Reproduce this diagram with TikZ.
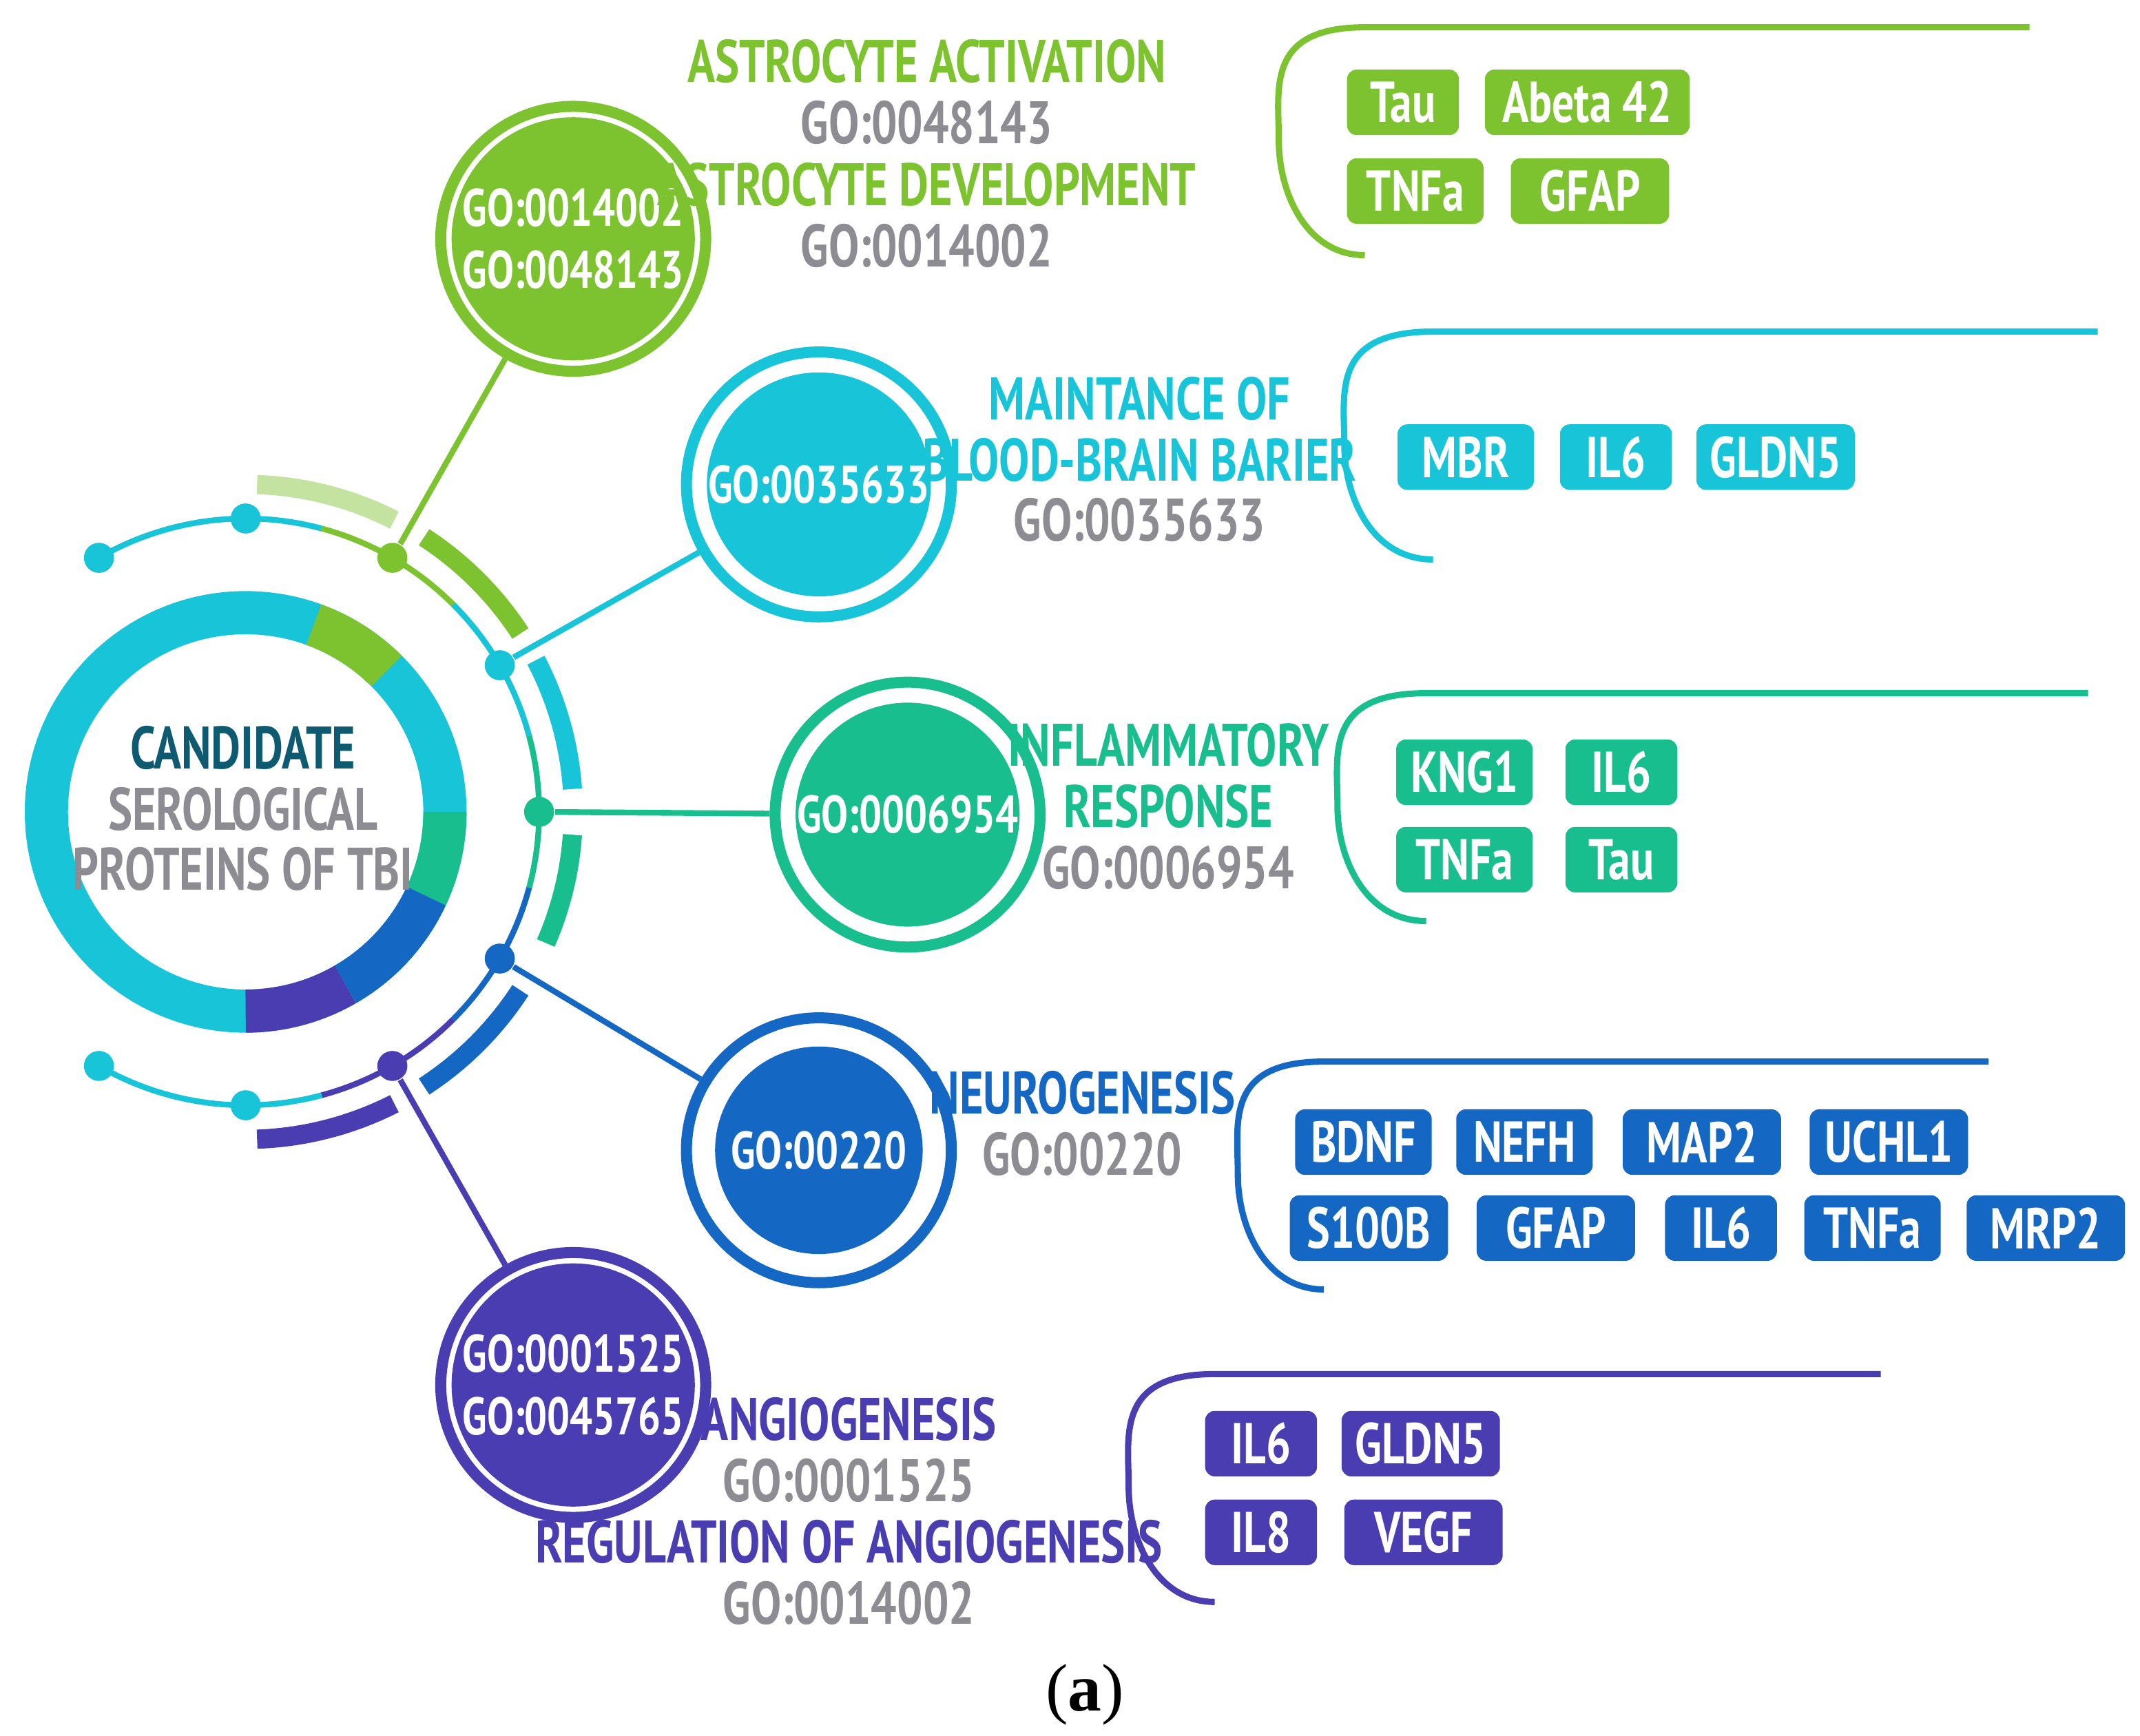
\documentclass[tikz,border=0pt]{standalone}
\usetikzlibrary{calc}
\usepackage{fontspec}
\setmainfont{PT Sans}
\newfontfamily\serif{Liberation Serif}
\newcommand\nt[1]{\scalebox{0.76}[1]{#1}}
\definecolor{cg}{HTML}{7DC22F}
\definecolor{cc}{HTML}{18C4D8}
\definecolor{ct}{HTML}{19BE8E}
\definecolor{cb}{HTML}{1468C4}
\definecolor{cp}{HTML}{4A3DB2}
\definecolor{cgr}{HTML}{8C8C92}
\definecolor{cd}{HTML}{0E5A70}
\begin{document}
\begin{tikzpicture}[x=0.01cm,y=-0.01cm,
  lab/.style={font=\bfseries\fontsize{12.5}{14}\selectfont,inner sep=0},
  tag/.style={fill=#1,text=white,rounded corners=2pt,minimum height=0.48cm,inner sep=0,font=\bfseries\fontsize{12}{14}\selectfont},
  go/.style={circle,draw=#1,line width=2.3pt,minimum size=1.94cm,inner sep=0},
  gofill/.style={circle,fill=#1,minimum size=1.52cm,inner sep=0,text=white,font=\bfseries\fontsize{11}{13}\selectfont,align=center},
  dot/.style={circle,fill=#1,minimum size=0.22cm,inner sep=0},
  br/.style={draw=#1,line width=1.3pt}]
\useasboundingbox (0,0) rectangle (1568,1272);
\coordinate (C) at (180,595);
% central ring
\draw[cc,line width=9pt] (C) circle[radius=146];
\draw[cg,line width=9pt] (C) ++(-45:146) arc[start angle=-45,end angle=-70,radius=146];
\draw[ct,line width=9pt] (C) ++(0:146) arc[start angle=0,end angle=25,radius=146];
\draw[cb,line width=9pt] (C) ++(25:146) arc[start angle=25,end angle=60,radius=146];
\draw[cp,line width=9pt] (C) ++(60:146) arc[start angle=60,end angle=90,radius=146];
\node[lab,text=cd] at (178,548) {\nt{CANDIDATE}};
\node[lab,text=cgr] at (178,593) {\nt{SEROLOGICAL}};
\node[lab,text=cgr] at (178,637) {\nt{PROTEINS OF TBI}};
% thin arc r=215
\foreach \a/\b/\c in {-120/-75/cc,-75/-45/cg,-45/-15/cc,-15/15/ct,15/45/cb,45/75/cp,75/120/cc}
  \draw[\c,line width=1.2pt] (C) ++(\a:215) arc[start angle=\a,end angle=\b,radius=215];
% outer arcs
\foreach \a/\b/\c/\o in {-63/-88/cg/0.45,-33/-57/cg/1,-4/-27.6/cc/1,4/23.6/ct/1,33/57/cb/1,63/88/cp/1}
  \draw[\c,opacity=\o,line width=4pt] (C) ++(\a:240) arc[start angle=\a,end angle=\b,radius=240];
% dots
\node[dot=cc] (d0) at ($(C)+(-120:215)$) {};
\node[dot=cc] (d1) at ($(C)+(-90:215)$) {};
\node[dot=cg] (dg) at ($(C)+(-60:215)$) {};
\node[dot=cc] (dc) at ($(C)+(-30:215)$) {};
\node[dot=ct] (dt) at ($(C)+(0:215)$) {};
\node[dot=cb] (db) at ($(C)+(30:215)$) {};
\node[dot=cp] (dp) at ($(C)+(60:215)$) {};
\node[dot=cc] (d7) at ($(C)+(90:215)$) {};
\node[dot=cc] (d8) at ($(C)+(120:215)$) {};
% GO circles
\node[go=cg] (G) at (420,175) {}; \node[gofill=cg] at (G) {\nt{GO:0014002}\\\nt{GO:0048143}};
\node[go=cc] (Cy) at (600,355) {}; \node[gofill=cc] at (Cy) {\nt{GO:0035633}};
\node[go=ct] (T) at (665,597) {}; \node[gofill=ct] at (T) {\nt{GO:0006954}};
\node[go=cb] (B) at (600,843) {}; \node[gofill=cb] at (B) {\nt{GO:00220}};
\node[go=cp] (P) at (420,1015) {}; \node[gofill=cp] at (P) {\nt{GO:0001525}\\\nt{GO:0045765}};
\draw[cg,line width=1.2pt] (dg) -- (G);
\draw[cc,line width=1.2pt] (dc) -- (Cy);
\draw[ct,line width=1.2pt] (dt) -- (T);
\draw[cb,line width=1.2pt] (db) -- (B);
\draw[cp,line width=1.2pt] (dp) -- (P);
% labels
\node[lab,text=cg] at (679,45) {\nt{ASTROCYTE ACTIVATION}};
\node[lab,text=cgr] at (679,90) {\nt{GO:0048143}};
\node[lab,text=cg] at (679,135) {\nt{ASTROCYTE DEVELOPMENT}};
\node[lab,text=cgr] at (679,180) {\nt{GO:0014002}};
\node[lab,text=cc] at (835,292) {\nt{MAINTANCE OF}};
\node[lab,text=cc] at (835,337) {\nt{BLOOD-BRAIN BARIER}};
\node[lab,text=cgr] at (835,381) {\nt{GO:0035633}};
\node[lab,text=ct] at (856,546) {\nt{INFLAMMATORY}};
\node[lab,text=ct] at (856,591) {\nt{RESPONSE}};
\node[lab,text=cgr] at (856,636) {\nt{GO:0006954}};
\node[lab,text=cb] at (793,801) {\nt{NEUROGENESIS}};
\node[lab,text=cgr] at (793,846) {\nt{GO:00220}};
\node[lab,text=cp] at (622,1040) {\nt{ANGIOGENESIS}};
\node[lab,text=cgr] at (622,1085) {\nt{GO:0001525}};
\node[lab,text=cp] at (622,1130) {\nt{REGULATION OF ANGIOGENESIS}};
\node[lab,text=cgr] at (622,1175) {\nt{GO:0014002}};
% brackets
\foreach \c/\t/\xl/\xr/\lx in {cg/20/1000/1487/937,cc/243/1050/1537/985,ct/508/1045/1530/980,cb/778/970/1457/907,cp/1007/890/1378/827}{
  \draw[br=\c] (\xr,\t) -- (\xl,\t) .. controls (\lx-10,\t) and (\lx,\t+45) .. (\lx,\t+83)
    .. controls (\lx,\t+121) and (\lx+20,\t+167) .. (\xl,\t+167);
}
% tags
\foreach \x/\y/\w/\s in {1028/75/82/Tau,1163/75/150/Abeta 42,1037/140/100/TNFa,1165/140/116/GFAP}
  \node[tag=cg,minimum width=\w*0.01cm] at (\x,\y) {\nt{\s}};
\foreach \x/\y/\w/\s in {1074/335/100/MBR,1184/335/82/IL6,1301/335/116/GLDN5}
  \node[tag=cc,minimum width=\w*0.01cm] at (\x,\y) {\nt{\s}};
\foreach \x/\y/\w/\s in {1073/566/100/KNG1,1188/566/82/IL6,1073/630/100/TNFa,1188/630/82/Tau}
  \node[tag=ct,minimum width=\w*0.01cm] at (\x,\y) {\nt{\s}};
\foreach \x/\y/\w/\s in {999/837/100/BDNF,1117/837/100/NEFH,1247/837/116/MAP2,1384/837/116/UCHL1,1003/900/116/S100B,1140/900/116/GFAP,1261/900/82/IL6,1372/900/100/TNFa,1499/900/116/MRP2}
  \node[tag=cb,minimum width=\w*0.01cm] at (\x,\y) {\nt{\s}};
\foreach \x/\y/\w/\s in {924/1058/82/IL6,1041/1058/116/GLDN5,924/1123/82/IL8,1043/1123/116/VEGF}
  \node[tag=cp,minimum width=\w*0.01cm] at (\x,\y) {\nt{\s}};
\node[font=\serif\fontsize{14}{16}\selectfont] at (795,1242) {(\textbf{a})};
\end{tikzpicture}
\end{document}
